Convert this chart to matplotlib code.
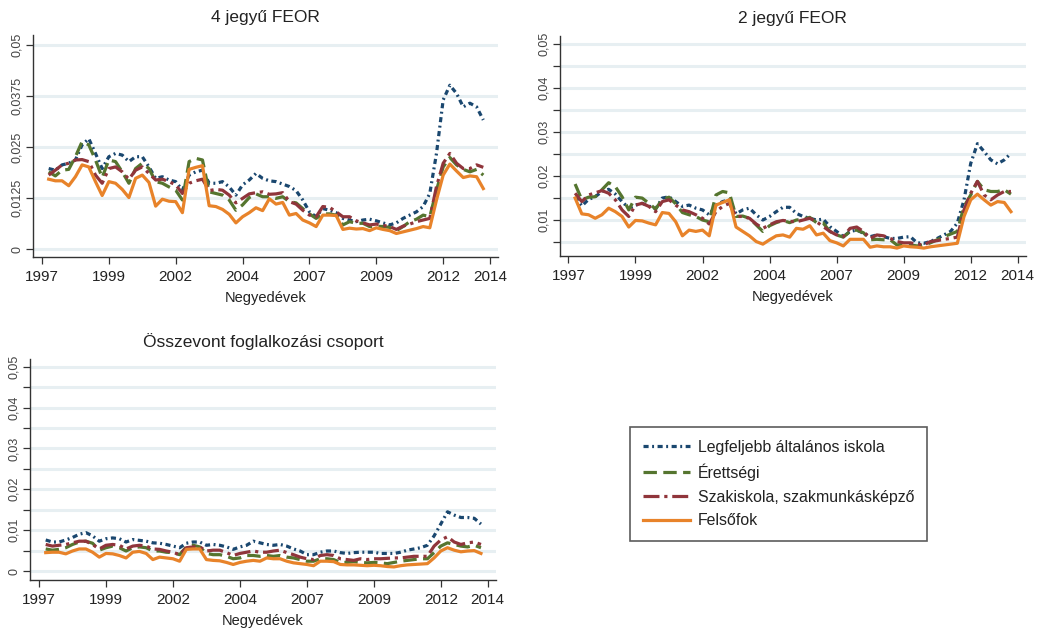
import matplotlib

matplotlib.use("Agg")

import matplotlib.pyplot as plt  # noqa: E402
import numpy as np  # noqa: E402

plt.rcParams["font.family"] = ["Liberation Sans", "DejaVu Sans"]

# quarter index 1..66 (1997q2 .. 2013q3), values in thousandths
QUARTERS = list(range(1, 67))
SCALE = 1000.0

TICK_POS = [0, 10, 20, 30, 40, 50, 60, 67]
TICK_LABELS = ["1997", "1999", "2002", "2004", "2007", "2009", "2012", "2014"]

SERIES_NAMES = [
    "Legfeljebb általános iskola",
    "Érettségi",
    "Szakiskola, szakmunkásképző",
    "Felsőfok",
]

# --- 4 jegyű FEOR ---------------------------------------------------------
p1_alt = [19.7, 19.3, 20.6, 21.0, 21.8, 25.5, 27.0, 23.4, 19.7, 22.6, 23.4, 23.0, 21.4, 22.6,
          22.6, 20.1, 17.3, 17.7, 16.9, 16.5, 14.4, 18.1, 18.9, 19.3, 16.1, 16.1, 16.5, 15.2,
          13.2, 15.7, 16.9, 18.5, 17.3, 16.7, 16.5, 15.9, 15.3, 14.3, 12.0, 9.1, 7.9, 9.9, 9.5,
          8.9, 7.5, 7.1, 6.7, 7.1, 7.3, 6.9, 6.4, 5.9, 6.4, 7.5, 8.3, 9.1, 10.4, 13.6, 23.4,
          36.5, 40.1, 38.1, 34.8, 35.7, 34.8, 31.6]
p1_ere = [18.9, 17.9, 19.3, 19.5, 22.6, 26.3, 25.5, 21.8, 17.5, 21.8, 21.4, 18.9, 16.1, 19.7,
          21.0, 19.7, 16.5, 16.1, 15.2, 14.4, 12.0, 21.4, 22.2, 21.8, 14.0, 13.6, 13.2, 12.0,
          9.5, 10.8, 12.6, 13.5, 12.8, 12.8, 12.4, 12.8, 11.6, 11.3, 9.9, 8.6, 7.5, 8.6, 8.6,
          8.3, 5.9, 6.7, 6.3, 6.3, 5.5, 5.6, 5.5, 5.3, 4.5, 5.5, 6.7, 7.3, 8.3, 7.9, 14.4,
          20.1, 22.4, 20.6, 19.5, 18.9, 19.5, 18.1]
p1_szak = [18.1, 19.3, 20.6, 21.0, 21.8, 21.9, 21.4, 18.1, 16.1, 19.7, 20.1, 18.9, 17.1, 19.3,
           20.1, 18.5, 16.9, 17.1, 16.5, 15.7, 13.6, 16.1, 16.7, 17.1, 14.3, 14.6, 14.4, 13.2,
           11.3, 12.4, 13.5, 13.8, 14.0, 13.4, 13.5, 13.8, 11.6, 11.0, 9.5, 8.3, 7.9, 10.4,
           10.2, 9.1, 7.9, 7.9, 6.9, 6.4, 5.9, 6.1, 5.8, 5.5, 4.8, 5.6, 6.1, 6.7, 7.1, 7.5,
           15.3, 21.0, 23.4, 21.0, 19.7, 19.7, 20.6, 20.0]
p1_fel = [17.1, 16.7, 16.7, 15.5, 17.7, 20.6, 20.1, 16.5, 13.1, 16.5, 16.1, 14.6, 12.6, 17.3,
          18.1, 16.3, 10.5, 12.2, 11.7, 11.6, 8.9, 19.5, 20.0, 20.4, 10.6, 10.4, 9.7, 8.5, 6.4,
          7.9, 8.9, 10.1, 9.4, 12.3, 11.0, 11.4, 8.3, 8.7, 7.1, 6.4, 5.5, 8.3, 8.3, 8.2, 4.8,
          5.1, 4.9, 5.0, 4.5, 5.2, 4.8, 4.5, 3.8, 4.2, 4.6, 5.0, 5.5, 5.2, 12.0, 18.1, 20.8,
          19.1, 17.5, 17.9, 17.7, 14.8]

# --- 2 jegyű FEOR ---------------------------------------------------------
p2_alt = [15.2, 13.1, 14.6, 15.2, 16.4, 16.9, 15.8, 14.1, 12.6, 13.3, 13.7, 13.1, 12.4, 14.9,
          15.2, 14.1, 13.0, 13.3, 12.6, 12.2, 11.1, 13.3, 14.1, 14.5, 11.3, 12.2, 12.6, 11.1,
          9.9, 10.7, 11.8, 12.8, 12.8, 11.4, 10.7, 10.3, 9.9, 10.1, 8.4, 7.3, 6.1, 7.3, 7.6,
          6.9, 6.1, 6.5, 6.1, 5.7, 5.7, 6.0, 6.1, 4.7, 4.6, 5.0, 5.7, 6.5, 7.3, 9.2, 14.5,
          22.8, 27.3, 25.5, 23.6, 22.7, 23.6, 25.1]
p2_ere = [18.1, 14.5, 15.1, 15.2, 16.8, 18.4, 17.5, 15.2, 12.2, 15.1, 14.9, 13.7, 12.4, 14.6,
          15.1, 13.6, 11.6, 11.1, 10.7, 9.9, 9.5, 15.6, 16.4, 16.1, 10.7, 10.8, 10.3, 8.8, 7.3,
          8.6, 9.3, 9.8, 9.3, 9.9, 10.1, 10.5, 9.3, 9.2, 7.3, 6.5, 6.0, 7.3, 7.6, 7.0, 5.4,
          5.5, 5.4, 5.4, 4.2, 4.4, 4.2, 4.0, 4.2, 4.7, 5.4, 6.1, 6.7, 7.3, 13.0, 15.6, 18.7,
          16.8, 16.4, 16.4, 16.8, 15.8]
p2_szak = [16.0, 14.1, 15.6, 16.1, 16.6, 16.0, 14.5, 12.2, 10.7, 13.3, 13.7, 13.0, 11.8, 14.1,
           14.5, 13.3, 12.2, 11.8, 11.1, 10.3, 9.0, 11.8, 13.0, 13.7, 10.7, 10.7, 10.3, 9.0,
           8.0, 8.8, 9.5, 9.8, 9.6, 9.5, 9.9, 10.3, 9.5, 8.4, 7.3, 6.5, 6.1, 8.0, 8.3, 7.3,
           5.7, 6.5, 6.3, 5.7, 5.0, 4.7, 4.7, 4.4, 4.2, 5.0, 5.2, 5.5, 5.7, 6.0, 12.2, 16.0,
           18.7, 15.6, 14.5, 15.6, 16.4, 16.4]
p2_fel = [14.9, 11.3, 11.1, 10.3, 11.1, 12.6, 11.8, 10.7, 8.3, 9.8, 9.7, 9.2, 8.8, 11.6, 11.4,
          9.5, 6.3, 7.6, 7.3, 7.6, 6.3, 13.3, 13.9, 14.5, 8.3, 7.3, 6.3, 5.0, 4.4, 5.4, 6.3,
          6.5, 6.0, 8.0, 7.8, 8.6, 6.5, 6.9, 5.2, 4.7, 4.0, 5.5, 5.5, 5.5, 3.7, 4.0, 3.8, 3.8,
          3.5, 4.0, 3.8, 3.7, 3.5, 3.8, 4.0, 4.2, 4.4, 4.6, 10.7, 14.5, 15.8, 14.5, 13.3, 14.1,
          13.9, 11.8]

# --- Összevont foglalkozási csoport ----------------------------------------
p3_alt = [7.6, 7.1, 7.1, 7.6, 8.2, 9.0, 9.4, 8.6, 7.3, 7.9, 8.1, 7.9, 7.1, 7.7, 7.5, 7.3, 6.9,
          6.8, 6.5, 6.1, 5.7, 6.8, 7.1, 7.1, 6.3, 6.5, 6.3, 5.9, 5.3, 5.9, 6.3, 7.3, 6.9, 6.5,
          6.3, 6.5, 6.1, 5.4, 4.9, 4.0, 4.0, 4.6, 4.9, 4.9, 4.5, 4.3, 4.5, 4.6, 4.6, 4.6, 4.3,
          4.3, 4.3, 4.6, 5.1, 5.4, 5.7, 6.3, 8.6, 11.5, 14.5, 13.7, 13.1, 13.1, 12.9, 11.5]
p3_ere = [5.4, 5.1, 5.3, 5.7, 6.5, 7.1, 7.3, 6.8, 5.1, 5.7, 6.1, 5.7, 4.9, 5.7, 5.9, 5.7, 4.9,
          4.9, 4.6, 4.5, 4.0, 5.9, 6.3, 5.9, 4.3, 4.0, 4.0, 3.6, 3.0, 3.2, 3.8, 3.8, 3.6, 3.8,
          3.6, 3.8, 3.4, 3.2, 2.8, 2.4, 2.4, 3.0, 3.0, 2.8, 2.1, 2.1, 2.3, 2.1, 2.0, 2.1, 2.0,
          1.8, 2.1, 2.4, 2.6, 2.8, 3.0, 3.0, 4.5, 6.1, 6.9, 6.5, 6.1, 5.9, 6.3, 5.7]
p3_szak = [6.5, 6.1, 6.3, 6.5, 6.9, 7.3, 7.3, 6.5, 5.4, 6.3, 6.5, 6.3, 5.4, 6.1, 6.3, 6.1, 5.4,
           5.3, 4.9, 4.6, 4.0, 5.7, 5.9, 5.9, 4.9, 5.1, 5.1, 4.5, 3.8, 4.3, 4.6, 4.9, 4.6, 4.6,
           4.9, 5.1, 4.5, 4.0, 3.4, 3.0, 2.8, 3.8, 4.0, 3.8, 3.0, 2.8, 2.6, 3.0, 2.8, 3.0, 3.0,
           3.1, 3.2, 3.2, 3.4, 3.6, 3.6, 3.6, 6.1, 7.6, 8.4, 7.1, 6.5, 6.9, 7.1, 6.5]
p3_fel = [4.5, 4.6, 4.6, 4.2, 4.9, 5.4, 5.4, 4.6, 3.4, 4.3, 4.2, 3.8, 3.2, 4.6, 4.8, 4.3, 2.8,
          3.4, 3.2, 3.0, 2.4, 5.3, 5.4, 5.4, 2.8, 2.6, 2.5, 2.1, 1.6, 2.1, 2.4, 2.6, 2.4, 3.2,
          3.0, 3.0, 2.4, 2.0, 1.8, 1.6, 1.3, 2.4, 2.4, 2.3, 1.6, 1.5, 1.5, 1.4, 1.3, 1.4, 1.3,
          1.1, 1.0, 1.3, 1.5, 1.6, 1.7, 1.8, 3.2, 4.9, 5.7, 5.1, 4.7, 4.9, 5.0, 4.3]

COLORS = ["#1a476f", "#55752f", "#90353b", "#e8832a"]
STYLES = [(0, (1.6, 1.1, 0.6, 1.1)), (0, (4.2, 2.0)), (0, (5.0, 1.5, 1.0, 1.5)), "-"]
GRID_COLOR = "#e7eff2"
TEXT_COLOR = "#222222"


def draw_panel(ax, title, series, ylim, grid_vals, tick_vals, tick_labels):
    for g in grid_vals:
        ax.axhline(g, color=GRID_COLOR, linewidth=2.2, zorder=0)
    lines = []
    for vals, color, ls, name in zip(series, COLORS, STYLES, SERIES_NAMES):
        (ln,) = ax.plot(QUARTERS, np.asarray(vals) / SCALE, color=color, linestyle=ls,
                        linewidth=2.3, label=name, zorder=2)
        lines.append(ln)
    ax.set_xlim(-1.3, 68.2)
    ax.set_ylim(*ylim)
    ax.set_xticks(TICK_POS)
    ax.set_xticklabels(TICK_LABELS, fontsize=11, color=TEXT_COLOR)
    ax.set_yticks(grid_vals, minor=True)
    ax.set_yticks(tick_vals)
    ax.set_yticklabels(tick_labels, fontsize=9, color="#444444", rotation=90, va="center")
    ax.tick_params(axis="both", which="both", direction="out", length=4.8, width=0.9,
                   color="#333333")
    ax.tick_params(axis="x", pad=4.5)
    ax.tick_params(axis="y", pad=2.5)
    for spine in ("top", "right"):
        ax.spines[spine].set_visible(False)
    for spine in ("left", "bottom"):
        ax.spines[spine].set_color("#333333")
        ax.spines[spine].set_linewidth(1.0)
    ax.set_title(title, fontsize=12.5, color=TEXT_COLOR, pad=9)
    ax.set_xlabel("Negyedévek", fontsize=10.5, color=TEXT_COLOR, labelpad=5)
    return lines


fig = plt.figure(figsize=(10.43, 6.35), dpi=100)
fig.patch.set_facecolor("white")

ax1 = fig.add_axes([33.3 / 1043, 1 - 256.7 / 635, 464.7 / 1043, 221.7 / 635])
ax2 = fig.add_axes([559.7 / 1043, 1 - 256.0 / 635, 466.0 / 1043, 220.3 / 635])
ax3 = fig.add_axes([30.3 / 1043, 1 - 580.0 / 635, 465.4 / 1043, 221.0 / 635])

fine_grid = [0.005 * i for i in range(11)]

lines = draw_panel(
    ax1, "4 jegyű FEOR", [p1_alt, p1_ere, p1_szak, p1_fel], (-0.00188, 0.0524),
    [0, 0.0125, 0.025, 0.0375, 0.05], [0, 0.0125, 0.025, 0.0375, 0.05],
    ["0", "0,0125", "0,025", "0,0375", "0,05"],
)
draw_panel(
    ax2, "2 jegyű FEOR", [p2_alt, p2_ere, p2_szak, p2_fel], (0.0017, 0.0519),
    fine_grid[1:], [0.01, 0.02, 0.03, 0.04, 0.05],
    ["0,01", "0,02", "0,03", "0,04", "0,05"],
)
draw_panel(
    ax3, "Összevont foglalkozási csoport", [p3_alt, p3_ere, p3_szak, p3_fel], (-0.0022, 0.0519),
    fine_grid, [0, 0.01, 0.02, 0.03, 0.04, 0.05],
    ["0", "0,01", "0,02", "0,03", "0,04", "0,05"],
)

leg = fig.legend(
    handles=lines, loc="upper left", bbox_to_anchor=(630 / 1043, 1 - 427 / 635),
    fontsize=11.4, frameon=True, fancybox=False, handlelength=3.0, handletextpad=0.5,
    labelspacing=0.55, borderpad=0.8, borderaxespad=0.0,
)
leg.get_frame().set_edgecolor("#333333")
leg.get_frame().set_linewidth(1.2)
for txt in leg.get_texts():
    txt.set_color(TEXT_COLOR)

fig.savefig("out.png", dpi=100, facecolor="white")
